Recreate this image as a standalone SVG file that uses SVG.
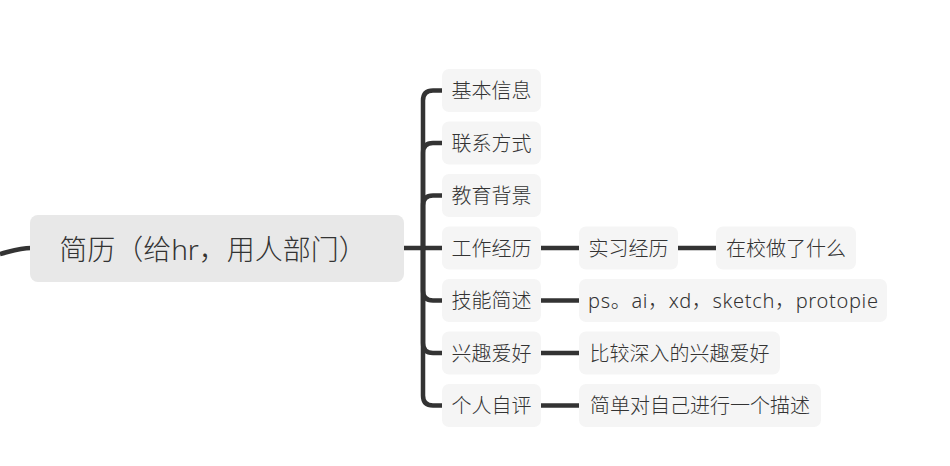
<svg xmlns="http://www.w3.org/2000/svg" width="950" height="466" viewBox="0 0 950 466">
<style>
.conn{fill:none;stroke:#333333;stroke-width:4.5;stroke-linecap:butt}
.main rect{fill:#e8e8e8}
.sub rect{fill:#f5f5f5}
text{font-family:"Noto Sans","Noto Sans CJK SC",sans-serif;font-weight:300;fill:#333333;text-anchor:middle;dominant-baseline:central}
.main text{font-size:28px}
.sub text{font-size:20px}
</style>
<rect width="950" height="466" fill="#ffffff"/>
<g id="connectors">
<path class="conn" d="M0,254 C12,251 20,248 31,248"/>
<path class="conn" d="M404,248 H442"/>
<path class="conn" d="M423,248 V100.5 Q423,90.5 433,90.5 H442"/>
<path class="conn" d="M423,248 V153 Q423,143 433,143 H442"/>
<path class="conn" d="M423,248 V205.5 Q423,195.5 433,195.5 H442"/>
<path class="conn" d="M423,248 V290.5 Q423,300.5 433,300.5 H442"/>
<path class="conn" d="M423,248 V343 Q423,353 433,353 H442"/>
<path class="conn" d="M423,248 V395.5 Q423,405.5 433,405.5 H442"/>
<path class="conn" d="M541,248 H579"/>
<path class="conn" d="M678,248 H716"/>
<path class="conn" d="M541,300.5 H579"/>
<path class="conn" d="M541,353 H579"/>
<path class="conn" d="M541,405.5 H579"/>
</g>
<g id="root" class="main"><rect x="30" y="215" width="374" height="67" rx="8"/><text x="213" y="248.5">简历（给hr，用人部门）</text></g>
<g id="n1" class="sub"><rect x="442" y="69" width="99" height="43" rx="7"/><text x="491.5" y="90.5">基本信息</text></g>
<g id="n2" class="sub"><rect x="442" y="121.5" width="99" height="43" rx="7"/><text x="491.5" y="143">联系方式</text></g>
<g id="n3" class="sub"><rect x="442" y="174" width="99" height="43" rx="7"/><text x="491.5" y="195.5">教育背景</text></g>
<g id="n4" class="sub"><rect x="442" y="226.5" width="99" height="43" rx="7"/><text x="491.5" y="248">工作经历</text></g>
<g id="n5" class="sub"><rect x="442" y="279" width="99" height="43" rx="7"/><text x="491.5" y="300.5">技能简述</text></g>
<g id="n6" class="sub"><rect x="442" y="331.5" width="99" height="43" rx="7"/><text x="491.5" y="353">兴趣爱好</text></g>
<g id="n7" class="sub"><rect x="442" y="384" width="99" height="43" rx="7"/><text x="491.5" y="405.5">个人自评</text></g>
<g id="n4a" class="sub"><rect x="579" y="226.5" width="99" height="43" rx="7"/><text x="628.5" y="248">实习经历</text></g>
<g id="n4b" class="sub"><rect x="716" y="226.5" width="140" height="43" rx="7"/><text x="786" y="248">在校做了什么</text></g>
<g id="n5a" class="sub"><rect x="579" y="279" width="308" height="43" rx="7"/><text x="733" y="300.5" textLength="290" lengthAdjust="spacing">ps。ai，xd，sketch，protopie</text></g>
<g id="n6a" class="sub"><rect x="579" y="331.5" width="201" height="43" rx="7"/><text x="679.5" y="353">比较深入的兴趣爱好</text></g>
<g id="n7a" class="sub"><rect x="579" y="384" width="242" height="43" rx="7"/><text x="700" y="405.5">简单对自己进行一个描述</text></g>
</svg>
